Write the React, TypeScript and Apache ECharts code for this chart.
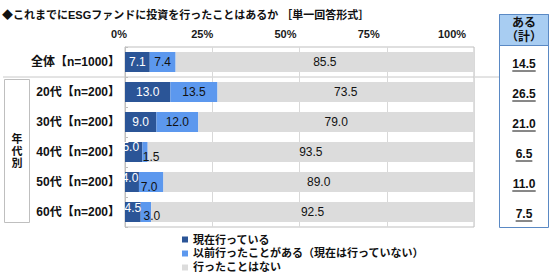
import React, { useEffect, useRef } from "react";
import * as echarts from "echarts";

const categories = ["全体【n=1000】", "20代【n=200】", "30代【n=200】", "40代【n=200】", "50代【n=200】", "60代【n=200】"];
const seriesNames = ["現在行っている", "以前行ったことがある（現在は行っていない）", "行ったことはない"];
const nowValues = [7.1, 13.0, 9.0, 5.0, 4.0, 4.5];
const pastValues = [7.4, 13.5, 12.0, 1.5, 7.0, 3.0];
const neverValues = [85.5, 73.5, 79.0, 93.5, 89.0, 92.5];
const totals = ["14.5", "26.5", "21.0", "6.5", "11.0", "7.5"];
const groupLabelChars = ["年", "代", "別"];
const axisMin = 0;
const axisMax = 100;
const axisStep = 25;

const FONT = "'Liberation Sans', 'Noto Sans CJK JP', sans-serif";
const C_NOW = "#2b5597";
const C_PAST = "#5c98ee";
const C_NEVER = "#dcdcdc";

const nowOffsets: Record<number, [number, number]> = { 3: [-3, -5], 4: [-2, -4], 5: [0, -4] };
const pastOffsets: Record<number, [number, number]> = { 3: [6, 5], 4: [-2, 5], 5: [6, 4] };

export default function App() {
  const ref = useRef<HTMLDivElement>(null);
  useEffect(() => {
    if (!ref.current) return;
    const chart = echarts.init(ref.current, undefined, { renderer: "svg" });
    const fmt = (p: any) => Number(p.value).toFixed(1);
    const mk = (vals: number[], offs: Record<number, [number, number]>) =>
      vals.map((v, i) => (offs[i] ? { value: v, label: { offset: offs[i] } } : { value: v }));
    const textW = (s: string) => {
      let w = 0;
      for (const ch of s) w += ch === "." ? 3.3 : 6.7;
      return w;
    };
    const option: any = {
      animation: false,
      textStyle: { fontFamily: FONT },
      grid: [
        { left: 125, top: 47, width: 349, height: 180, show: true, borderColor: "#bfbfbf", borderWidth: 1, backgroundColor: "transparent" },
        { left: 499, top: 47, width: 50, height: 180, show: false },
        { left: 119, top: 47, width: 333, height: 1, show: false },
      ],
      xAxis: [
        {
          type: "value", gridIndex: 0, position: "top", min: axisMin, max: axisMax, interval: axisStep,
          axisLabel: { show: false }, axisLine: { show: false }, axisTick: { show: false },
          splitLine: { show: true, lineStyle: { color: "#d9d9d9", width: 1 } },
        },
        { type: "value", gridIndex: 1, min: 0, max: 1, show: false },
        {
          type: "value", gridIndex: 2, position: "top", min: axisMin, max: axisMax, interval: axisStep,
          axisLabel: { formatter: "{value}%", fontSize: 11, fontWeight: "bold", color: "#1a1a1a", margin: 8, fontFamily: FONT },
          axisLine: { show: false }, axisTick: { show: false }, splitLine: { show: false },
        },
      ],
      yAxis: [
        {
          type: "category", gridIndex: 0, inverse: true, data: categories,
          axisLine: { show: true, lineStyle: { color: "#bfbfbf" } },
          axisTick: { show: true, inside: true, length: 3, lineStyle: { color: "#bfbfbf" } },
          axisLabel: { fontSize: 12, fontWeight: "bold", color: "#111", margin: 5, fontFamily: FONT },
        },
        { type: "category", gridIndex: 1, inverse: true, data: categories, show: false },
        { type: "value", gridIndex: 2, show: false },
      ],
      legend: {
        orient: "vertical", left: 182, top: 234, padding: 0, itemWidth: 6, itemHeight: 6, itemGap: 3, itemTextGap: 3,
        icon: "rect", data: seriesNames,
        textStyle: { fontSize: 11, fontWeight: "bold", color: "#111", fontFamily: FONT },
      },
      series: [
        {
          name: seriesNames[0], type: "bar", stack: "s", barWidth: 20, xAxisIndex: 0, yAxisIndex: 0,
          itemStyle: { color: C_NOW }, data: mk(nowValues, nowOffsets),
          label: { show: true, position: "inside", color: "#fff", fontSize: 12, fontFamily: FONT, formatter: fmt },
        },
        {
          name: seriesNames[1], type: "bar", stack: "s", barWidth: 20, xAxisIndex: 0, yAxisIndex: 0,
          itemStyle: { color: C_PAST }, data: mk(pastValues, pastOffsets),
          label: { show: true, position: "inside", color: "#111", fontSize: 12, fontFamily: FONT, formatter: fmt },
        },
        {
          name: seriesNames[2], type: "bar", stack: "s", barWidth: 20, xAxisIndex: 0, yAxisIndex: 0,
          itemStyle: { color: C_NEVER }, data: neverValues,
          label: { show: true, position: "inside", color: "#111", fontSize: 12, fontFamily: FONT, formatter: fmt },
        },
        {
          type: "custom", xAxisIndex: 1, yAxisIndex: 1, silent: true,
          data: totals.map((_, i) => [0.5, i]),
          encode: { x: 0, y: 1 },
          renderItem: (params: any, api: any) => {
            const pt = api.coord([api.value(0), api.value(1)]);
            const s = totals[params.dataIndex];
            const w = textW(s);
            const y = pt[1] + 2;
            return {
              type: "group",
              children: [
                {
                  type: "text",
                  style: { text: s, x: pt[0], y, align: "center", verticalAlign: "middle", fontSize: 12, fontWeight: "bold", fill: "#111", fontFamily: FONT },
                },
                {
                  type: "line",
                  shape: { x1: pt[0] - w / 2, y1: y + 7, x2: pt[0] + w / 2, y2: y + 7 },
                  style: { stroke: "#111", lineWidth: 1 },
                },
              ],
            };
          },
        },
      ],
      graphic: [
        {
          type: "text", left: 2, top: 9,
          style: { text: "◆これまでにESGファンドに投資を行ったことはあるか ［単一回答形式］", fontSize: 11, fontWeight: "bold", fill: "#111", fontFamily: FONT },
        },
        { type: "line", shape: { x1: 3, y1: 77, x2: 499, y2: 77 }, style: { stroke: "#c8c8c8", lineWidth: 1 }, z: 0 },
        { type: "rect", shape: { x: 4.5, y: 79.5, width: 25, height: 143 }, style: { fill: "#fff", stroke: "#bfbfbf", lineWidth: 1 } },
        ...groupLabelChars.map((ch, i) => ({
          type: "text", x: 17, y: 139 + i * 12,
          style: { text: ch, fontSize: 11, fontWeight: "bold", fill: "#111", align: "center", verticalAlign: "middle", fontFamily: FONT },
        })),
        { type: "rect", shape: { x: 499.5, y: 14.5, width: 49, height: 213 }, style: { fill: "#fff", stroke: "#5a89c4", lineWidth: 1 }, z: -1 },
        { type: "rect", shape: { x: 499.5, y: 14.5, width: 49, height: 31 }, style: { fill: "#a8cdf2", stroke: "#5a89c4", lineWidth: 1 }, z: -1 },
        {
          type: "text", x: 524, y: 23,
          style: { text: "ある", fontSize: 12, fontWeight: "bold", fill: "#111", align: "center", verticalAlign: "middle", fontFamily: FONT },
        },
        {
          type: "text", x: 524, y: 37,
          style: { text: "（計）", fontSize: 12, fontWeight: "bold", fill: "#111", align: "center", verticalAlign: "middle", fontFamily: FONT },
        },
      ],
    };
    chart.setOption(option);
    return () => chart.dispose();
  }, []);
  return <div ref={ref} style={{ position: "fixed", left: 0, top: 0, width: 550, height: 279, background: "#fff" }} />;
}
